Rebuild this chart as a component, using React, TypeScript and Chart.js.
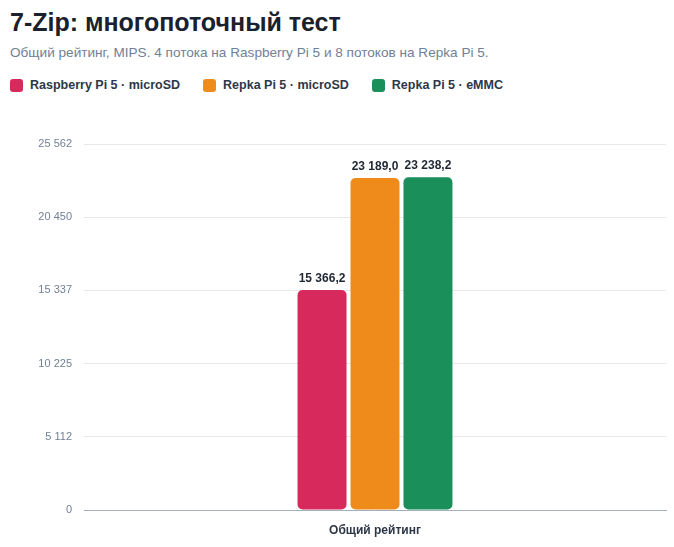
import React, { useEffect, useRef } from "react";
import Chart from "chart.js/auto";

const categories = ["Общий рейтинг"];
const seriesNames = ["Raspberry Pi 5 · microSD", "Repka Pi 5 · microSD", "Repka Pi 5 · eMMC"];
const seriesColors = ["#d7295c", "#ef8b1a", "#1a8f5a"];
const raspberryMicroSD = [15366.2];
const repkaMicroSD = [23189.0];
const repkaEMMC = [23238.2];

const FONT = "'Liberation Sans', Arial, sans-serif";

const groupDigits = (s: string) => s.replace(/\B(?=(\d{3})+(?!\d))/g, " ");
const fmtValue = (v: number) => {
  const [i, f] = v.toFixed(1).split(".");
  return groupDigits(i) + "," + f;
};
const fmtTick = (v: number) => groupDigits(String(Math.round(v)));

const valueLabels = {
  id: "valueLabels",
  afterDatasetsDraw(chart: any) {
    const ctx = chart.ctx;
    ctx.save();
    ctx.font = `bold 12px ${FONT}`;
    ctx.fillStyle = "#1f2733";
    ctx.textAlign = "center";
    ctx.textBaseline = "alphabetic";
    chart.data.datasets.forEach((ds: any, di: number) => {
      const meta = chart.getDatasetMeta(di);
      meta.data.forEach((bar: any, i: number) => {
        ctx.fillText(fmtValue(ds.data[i]), bar.x, bar.y - 8);
      });
    });
    ctx.restore();
  },
};

const App: React.FC = () => {
  const chartRef = useRef<HTMLCanvasElement | null>(null);

  useEffect(() => {
    if (!chartRef.current) return;
    const all = [...raspberryMicroSD, ...repkaMicroSD, ...repkaEMMC];
    const yMax = Math.max(...all) * 1.1;
    const series = [raspberryMicroSD, repkaMicroSD, repkaEMMC];
    const myChart = new Chart(chartRef.current, {
      type: "bar",
      data: {
        labels: categories,
        datasets: series.map((data, i) => ({
          label: seriesNames[i],
          data,
          backgroundColor: seriesColors[i],
          borderRadius: 5,
          borderSkipped: false,
          categoryPercentage: 0.273,
          barPercentage: 0.925,
        })),
      },
      options: {
        animation: false,
        responsive: true,
        maintainAspectRatio: false,
        layout: { padding: { top: 33, right: 8, bottom: 0, left: 0 } },
        plugins: {
          legend: { display: false },
          tooltip: { enabled: false },
        },
        scales: {
          x: {
            grid: { display: false, drawTicks: false },
            border: { display: true, color: "#a3b0c2", width: 1 },
            ticks: {
              padding: 13,
              color: "#2d3748",
              font: { family: FONT, size: 12, weight: "bold" },
            },
            afterFit: (scale: any) => {
              scale.height = 37;
            },
          },
          y: {
            min: 0,
            max: yMax,
            border: { display: false },
            grid: { color: "#e6e8ec", drawTicks: false },
            ticks: {
              padding: 12,
              color: "#718096",
              font: { family: FONT, size: 11 },
              callback: (v: any) => fmtTick(Number(v)),
            },
            afterBuildTicks: (scale: any) => {
              scale.ticks = [0, 1, 2, 3, 4, 5].map((k) => ({ value: (yMax / 5) * k }));
            },
            afterFit: (scale: any) => {
              scale.width = 84;
            },
          },
        },
      },
      plugins: [valueLabels],
    });

    return () => {
      myChart.destroy();
    };
  }, []);

  return (
    <div
      style={{
        position: "fixed",
        top: 0,
        left: 0,
        width: 674,
        height: 547,
        background: "#fff",
        fontFamily: FONT,
      }}
    >
      <div
        style={{
          position: "absolute",
          top: 6,
          left: 10,
          fontSize: 25,
          lineHeight: "32px",
          fontWeight: "bold",
          color: "#1a202c",
          whiteSpace: "nowrap",
        }}
      >
        7-Zip: многопоточный тест
      </div>
      <div
        style={{
          position: "absolute",
          top: 45,
          left: 10,
          fontSize: 13.6,
          lineHeight: "16px",
          color: "#718096",
          whiteSpace: "nowrap",
        }}
      >
        Общий рейтинг, MIPS. 4 потока на Raspberry Pi 5 и 8 потоков на Repka Pi 5.
      </div>
      <div
        style={{
          position: "absolute",
          top: 77,
          left: 10,
          display: "flex",
          alignItems: "center",
          gap: 23,
          fontSize: 12.5,
          lineHeight: "16px",
          fontWeight: "bold",
          color: "#2d3748",
          whiteSpace: "nowrap",
        }}
      >
        {seriesNames.map((name, i) => (
          <div key={name} style={{ display: "flex", alignItems: "center", gap: 7 }}>
            <span
              style={{
                display: "inline-block",
                width: 13,
                height: 13,
                borderRadius: 3,
                background: seriesColors[i],
              }}
            />
            <span>{name}</span>
          </div>
        ))}
      </div>
      <div style={{ position: "absolute", top: 111, left: 0, width: 674, height: 436 }}>
        <canvas ref={chartRef} />
      </div>
    </div>
  );
};

export default App;
